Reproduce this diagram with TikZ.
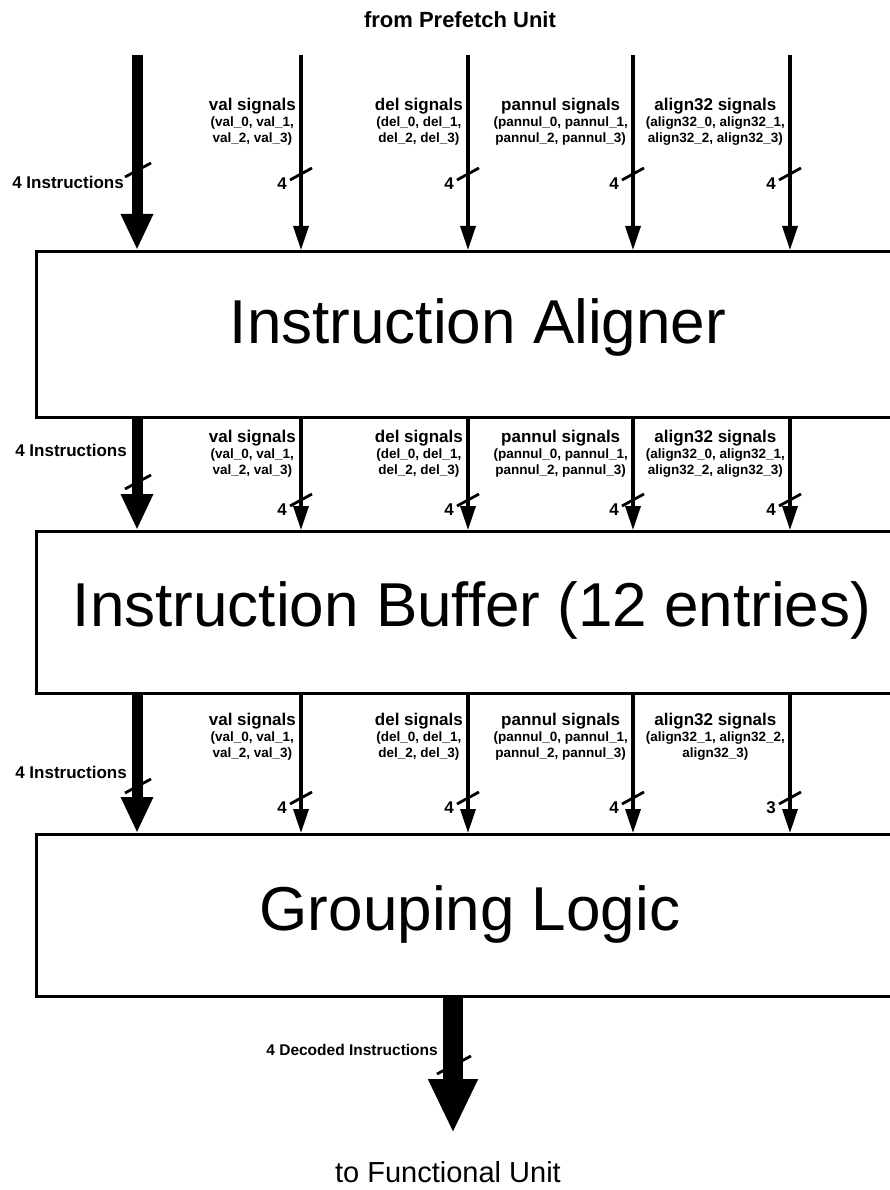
\documentclass[tikz,border=0pt]{standalone}
\usepackage{fontspec}
\setmainfont{Liberation Sans}
\usetikzlibrary{arrows.meta,calc}

% bus label block: name, x of the wire, top y, text
\newcommand\siglabel[4]{%
  \node[siglab, anchor=north east] (#1) at (#2-5,#3) {#4};}
% bit-width tick across a wire: coordinate name, width label
\newcommand\buswidth[2]{%
  \draw[tick] (#1) ++(-11,6) -- ++(22,-12);
  \node[widthlab] at ($(#1)+(-19,10)$) {#2};}
\newcommand\st[1]{{\fontsize{17}{16}\selectfont #1}}

\begin{document}
\begin{tikzpicture}[x=1pt,y=-1pt,
  unit/.style={draw, line width=2.6pt, rectangle, anchor=north west,
    inner sep=0pt, minimum width=880pt},
  unittext/.style={font=\fontsize{62}{70}\selectfont},
  bus/.style={line width=11pt, -{Triangle[width=30pt,length=36pt]}},
  outbus/.style={line width=20pt, -{Triangle[width=46pt,length=54pt]}},
  wire/.style={line width=3.4pt, -{Triangle[width=15pt,length=24pt]}},
  tick/.style={line width=2.8pt},
  siglab/.style={inner sep=0pt, align=center,
    font=\bfseries\fontsize{13.5}{16}\selectfont},
  widthlab/.style={font=\bfseries\fontsize{17}{20}\selectfont, inner sep=0pt},
  buslab/.style={font=\bfseries\fontsize{17}{20}\selectfont, inner sep=0pt, anchor=east},
  endlab/.style={inner sep=0pt}
]
\useasboundingbox (0,0) rectangle (890,1190);

% end points
\node[endlab, font=\bfseries\fontsize{22}{26}\selectfont] (src) at (460,20) {from Prefetch Unit};
\node[endlab, font=\fontsize{29}{34}\selectfont] (dst) at (448,1172) {to Functional Unit};

% processing units
\node[unit, minimum height=166pt] (A) at (35,250) {};
\node[unittext] (Atext) at (478,327) {Instruction Aligner};
\node[unit, minimum height=162pt] (B) at (35,530) {};
\node[unittext] (Btext) at (472,610) {Instruction Buffer (12 entries)};
\node[unit, minimum height=162pt] (C) at (35,833) {};
\node[unittext] (Ctext) at (470,914) {Grouping Logic};

% wire columns
\coordinate (s0) at (137,55);
\coordinate (s1) at (301,55);
\coordinate (s2) at (468,55);
\coordinate (s3) at (633,55);
\coordinate (s4) at (790,55);

% ---- into the aligner
\draw[bus]  (s0) -- (s0 |- A.north);
\draw[wire] (s1) -- (s1 |- A.north);
\draw[wire] (s2) -- (s2 |- A.north);
\draw[wire] (s3) -- (s3 |- A.north);
\draw[wire] (s4) -- (s4 |- A.north);

\coordinate (a0) at (137,170);
\draw[tick] (a0) ++(-12,7) -- ++(26,-14);
\node[buslab] (ai) at (124,182) {4 Instructions};
\coordinate (a1) at (301,174); \buswidth{a1}{4}
\coordinate (a2) at (468,174); \buswidth{a2}{4}
\coordinate (a3) at (633,174); \buswidth{a3}{4}
\coordinate (a4) at (790,174); \buswidth{a4}{4}

\siglabel{av}{301}{98}{\st{val signals}\\(val\_0, val\_1,\\val\_2, val\_3)}
\siglabel{ad}{468}{98}{\st{del signals}\\(del\_0, del\_1,\\del\_2, del\_3)}
\siglabel{ap}{633}{98}{\st{pannul signals}\\(pannul\_0, pannul\_1,\\pannul\_2, pannul\_3)}
\siglabel{aa}{790}{98}{\st{align32 signals}\\(align32\_0, align32\_1,\\align32\_2, align32\_3)}

% ---- aligner to buffer
\draw[bus]  (A.south -| s0) -- (B.north -| s0);
\draw[wire] (A.south -| s1) -- (B.north -| s1);
\draw[wire] (A.south -| s2) -- (B.north -| s2);
\draw[wire] (A.south -| s3) -- (B.north -| s3);
\draw[wire] (A.south -| s4) -- (B.north -| s4);

\coordinate (b0) at (137,482);
\draw[tick] (b0) ++(-12,7) -- ++(26,-14);
\node[buslab] (bi) at (127,450) {4 Instructions};
\coordinate (b1) at (301,500); \buswidth{b1}{4}
\coordinate (b2) at (468,500); \buswidth{b2}{4}
\coordinate (b3) at (633,500); \buswidth{b3}{4}
\coordinate (b4) at (790,500); \buswidth{b4}{4}

\siglabel{bv}{301}{430}{\st{val signals}\\(val\_0, val\_1,\\val\_2, val\_3)}
\siglabel{bd}{468}{430}{\st{del signals}\\(del\_0, del\_1,\\del\_2, del\_3)}
\siglabel{bp}{633}{430}{\st{pannul signals}\\(pannul\_0, pannul\_1,\\pannul\_2, pannul\_3)}
\siglabel{ba}{790}{430}{\st{align32 signals}\\(align32\_0, align32\_1,\\align32\_2, align32\_3)}

% ---- buffer to grouping logic
\draw[bus]  (B.south -| s0) -- (C.north -| s0);
\draw[wire] (B.south -| s1) -- (C.north -| s1);
\draw[wire] (B.south -| s2) -- (C.north -| s2);
\draw[wire] (B.south -| s3) -- (C.north -| s3);
\draw[wire] (B.south -| s4) -- (C.north -| s4);

\coordinate (c0) at (137,786);
\draw[tick] (c0) ++(-12,7) -- ++(26,-14);
\node[buslab] (ci) at (127,772) {4 Instructions};
\coordinate (c1) at (301,798); \buswidth{c1}{4}
\coordinate (c2) at (468,798); \buswidth{c2}{4}
\coordinate (c3) at (633,798); \buswidth{c3}{4}
\coordinate (c4) at (790,798); \buswidth{c4}{3}

\siglabel{cv}{301}{713}{\st{val signals}\\(val\_0, val\_1,\\val\_2, val\_3)}
\siglabel{cd}{468}{713}{\st{del signals}\\(del\_0, del\_1,\\del\_2, del\_3)}
\siglabel{cp}{633}{713}{\st{pannul signals}\\(pannul\_0, pannul\_1,\\pannul\_2, pannul\_3)}
\siglabel{ca}{790}{713}{\st{align32 signals}\\(align32\_1, align32\_2,\\align32\_3)}

% ---- decoded output
\coordinate (out) at (453,1133);
\draw[outbus] (C.south -| out) -- (out);
\coordinate (d0) at (453,1066);
\draw[tick] (d0) ++(-16,8) -- ++(34,-18);
\node[buslab, font=\bfseries\fontsize{15.5}{18}\selectfont] (di) at (438,1050) {4 Decoded Instructions};
\end{tikzpicture}
\end{document}
